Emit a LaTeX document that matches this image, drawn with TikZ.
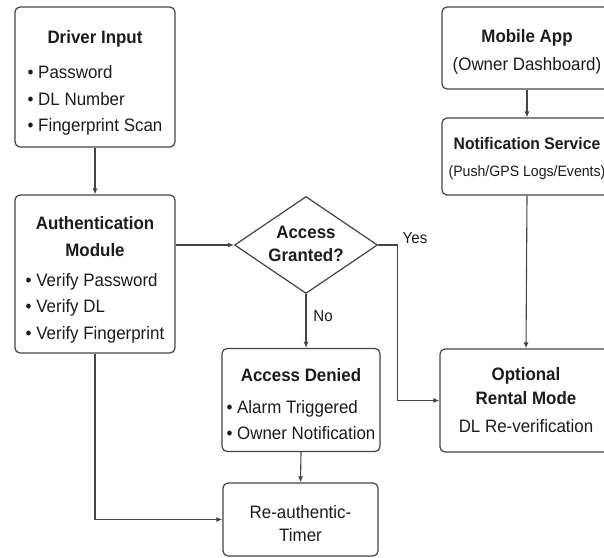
\documentclass[tikz,border=0pt]{standalone}
\usepackage{fontspec}
\setmainfont{Liberation Sans}[FakeStretch=0.94]
\usepackage{tikz}
\usetikzlibrary{arrows.meta,shapes.geometric}
\definecolor{linec}{RGB}{68,68,68}
\definecolor{textc}{RGB}{28,28,28}
\newcommand{\bl}[1]{\textbullet\ #1}
\newcommand{\lift}[1]{\rule{0pt}{#1}}

\tikzset{
  blk/.style={draw=linec,line width=1.2pt,rounded corners=5pt,fill=white,inner sep=0pt,align=center,text=textc,font=\fontsize{18}{26.5}\selectfont},
  dec/.style={draw=linec,line width=1.2pt,diamond,inner sep=0pt,fill=white},
  flow/.style={draw=linec,line width=1.1pt,->},
  lbl/.style={text=textc,inner sep=0pt,align=center,font=\fontsize{18}{23}\selectfont}
}

\begin{document}
\begin{tikzpicture}[x=1pt,y=-1pt,>={Latex[length=6pt,width=5pt]}]
\useasboundingbox (0,0) rectangle (604,557);
\clip (0,0) rectangle (604,557);
% left column
\node[blk,minimum width=160pt,minimum height=140pt] (drv) at (95,77) {\lift{29pt}\textbf{Driver Input}\\[8.5pt]\begin{tabular}[t]{@{}l@{}}\bl{Password}\\\bl{DL Number}\\\bl{Fingerprint Scan}\end{tabular}};
\node[blk,minimum width=160pt,minimum height=158pt] (auth) at (95,274) {\lift{29pt}\textbf{Authentication}\\\textbf{Module}\\[3.5pt]\begin{tabular}[t]{@{}l@{}}\bl{Verify Password}\\\bl{Verify DL}\\\bl{Verify Fingerprint}\end{tabular}};
% decision
\node[dec,minimum width=143pt,minimum height=97pt] (dia) at (306,245) {};
\node[lbl] (diat) at ([yshift=1pt]dia.center) {\textbf{Access}\\\textbf{Granted?}};
\node[blk,minimum width=158pt,minimum height=103pt] (den) at (301,400) {\lift{29pt}\textbf{Access Denied}\\[5.5pt]\begin{tabular}[t]{@{}l@{}}\bl{Alarm Triggered}\\\bl{Owner Notification}\end{tabular}};
\node[blk,minimum width=155pt,minimum height=73pt,font=\fontsize{18}{23}\selectfont] (reauth) at (300.5,519.5) {\lift{21pt}Re-authentic-\\Timer};
% right column
\node[blk,minimum width=170pt,minimum height=82pt,font=\fontsize{18}{28}\selectfont] (app) at (527,48) {\lift{21pt}\textbf{Mobile App}\\(Owner Dashboard)};
\node[blk,minimum width=170pt,minimum height=77pt] (notif) at (527,156.5) {\lift{16pt}{\fontsize{16.7}{20}\selectfont\textbf{Notification Service}}\\[0pt]{\fontsize{15}{18}\selectfont(Push/GPS Logs/Events)}};
\node[blk,minimum width=172pt,minimum height=103pt,font=\fontsize{18}{24}\selectfont] (rent) at (526,400.5) {\textbf{Optional}\\\textbf{Rental Mode}\\[4pt]DL Re-verification};
% connectors
\draw[flow] (drv.south) -- (auth.north);
\draw[flow] (dia.west -| auth.east) -- (dia.west);
\draw[flow] (dia.east) -- ++(19,0) |- (rent.west);
\draw[flow] (dia.south) -- (dia.south |- den.north);
\draw[flow] (den.south) -- (reauth.north);
\draw[flow] (auth.south) |- (reauth.west);
\draw[flow] (app.south) -- (notif.north);
\draw[flow] (notif.south) -- (rent.north);
\node[lbl,font=\fontsize{16}{20}\selectfont] (yes) at (415,238) {Yes};
\node[lbl,font=\fontsize{16}{20}\selectfont] (no) at (323,316) {No};
\end{tikzpicture}
\end{document}
